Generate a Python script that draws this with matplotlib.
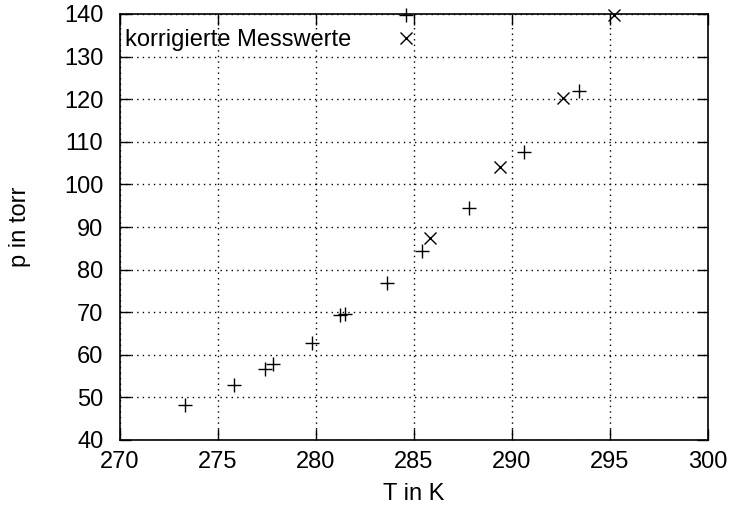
import matplotlib
matplotlib.use("Agg")
from matplotlib import pyplot as plt
from matplotlib.lines import Line2D

T_mess = [273.3, 275.8, 277.4, 277.8, 279.8, 281.2, 281.5, 283.6, 285.4, 287.8, 290.6, 293.4]
p_mess = [48.2, 52.9, 56.7, 57.9, 62.7, 69.3, 69.6, 76.8, 84.4, 94.4, 107.7, 121.9]

# korrigierte Messwerte
T_korr = [285.8, 289.4, 292.6, 295.2]
p_korr = [87.4, 104.2, 120.2, 139.8]

x_ticks = [270, 275, 280, 285, 290, 295, 300]
y_ticks = [40, 50, 60, 70, 80, 90, 100, 110, 120, 130, 140]

plt.rcParams['font.family'] = ['Liberation Sans', 'DejaVu Sans']
plt.rcParams['font.size'] = 17

fig = plt.figure(figsize=(7.35, 5.14), dpi=100)
ax = fig.add_axes([120/735, 74/514, 588/735, 426/514])

ax.plot(T_mess, p_mess, linestyle='none', marker='+', markersize=10,
        markeredgewidth=1.0, color='black', clip_on=False)
ax.plot(T_korr, p_korr, linestyle='none', marker='x', markersize=9,
        markeredgewidth=1.0, color='black', clip_on=False)

ax.set_xlim(270, 300)
ax.set_ylim(40, 140)
ax.set_xticks(x_ticks)
ax.set_yticks(y_ticks)
ax.grid(True, color='black', linestyle=(0, (1, 3)), linewidth=1.0)
ax.tick_params(direction='in', length=8, width=1.0, top=True, right=True)
ax.tick_params(axis='x', pad=8)
ax.tick_params(axis='y', pad=12)
for s in ax.spines.values():
    s.set_linewidth(1.2)

ax.set_xlabel("T in K", labelpad=7)
ax.set_ylabel("p in torr", labelpad=24)

# Legende wie bei gnuplot: Text links, Symbol rechts
h1 = Line2D([], [], linestyle='none', marker='+', markersize=10, markeredgewidth=1.0, color='black')
h2 = Line2D([], [], linestyle='none', marker='x', markersize=9, markeredgewidth=1.0, color='black')
ax.legend([h1, h2], ["", "korrigierte Messwerte"], loc='upper left',
          bbox_to_anchor=(0.0, 1.03), markerfirst=False, frameon=False,
          handlelength=1.5, handletextpad=1.6, labelspacing=0.05,
          borderaxespad=0.0, borderpad=0.2)

fig.savefig("out.png", dpi=100)
